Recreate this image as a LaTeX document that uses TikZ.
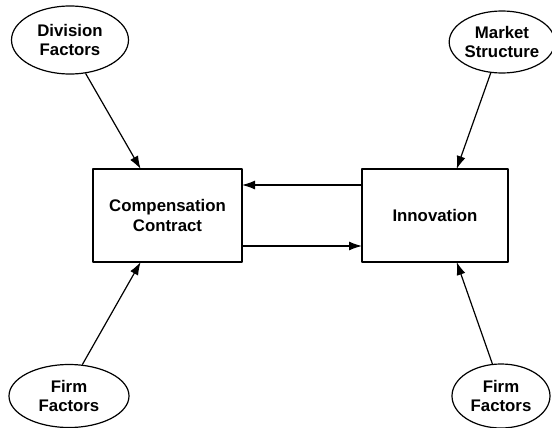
\documentclass[tikz,border=0pt]{standalone}
\usepackage{fontspec}
\setmainfont{Liberation Sans}
\usetikzlibrary{shapes.geometric,arrows.meta}
\tikzset{factor/.style={draw=black,ellipse,line width=.6pt,inner sep=0pt,align=center,font=\fontsize{8.4}{9.8}\selectfont\bfseries},
 block/.style={draw=black,rectangle,line width=.6pt,inner sep=0pt,outer sep=0pt,minimum height=46.5pt,align=center,font=\fontsize{8.4}{9.8}\selectfont\bfseries},
 link/.style={draw=black,line width=.6pt,-{Latex[length=6.5pt,width=4.5pt]}},
 every picture/.style={line join=round}}
\begin{document}
\begin{tikzpicture}[x=0.5pt,y=-0.5pt]
\useasboundingbox (0,0) rectangle (552,428);
\node[block,minimum width=74.5pt] (comp) at (167.5,215.5) {Compensation\\Contract};
\node[block,minimum width=73pt] (innov) at (435,215.5) {Innovation};
\node[factor,minimum width=58.5pt,minimum height=34pt] (div) at (70,40) {Division\\Factors};
\node[factor,minimum width=48pt,minimum height=31pt] (mkt) at (502,42) {Market\\Structure};
\node[factor,minimum width=60pt,minimum height=31.5pt] (firmA) at (69,396) {Firm\\Factors};
\node[factor,minimum width=49pt,minimum height=32pt] (firmB) at (501,396) {Firm\\Factors};
\draw[link] (div.-65) -- (comp.120.6);
\draw[link] (mkt.-110) -- (innov.65.7);
\draw[link] (firmA.67) -- (comp.-120.6);
\draw[link] (firmB.105.3) -- (innov.-65.7);
\draw[link] ([yshift=15.25pt]innov.west) -- ([yshift=15.25pt]comp.east);
\draw[link] ([yshift=-15.25pt]comp.east) -- ([yshift=-15.25pt]innov.west);
\end{tikzpicture}
\end{document}
